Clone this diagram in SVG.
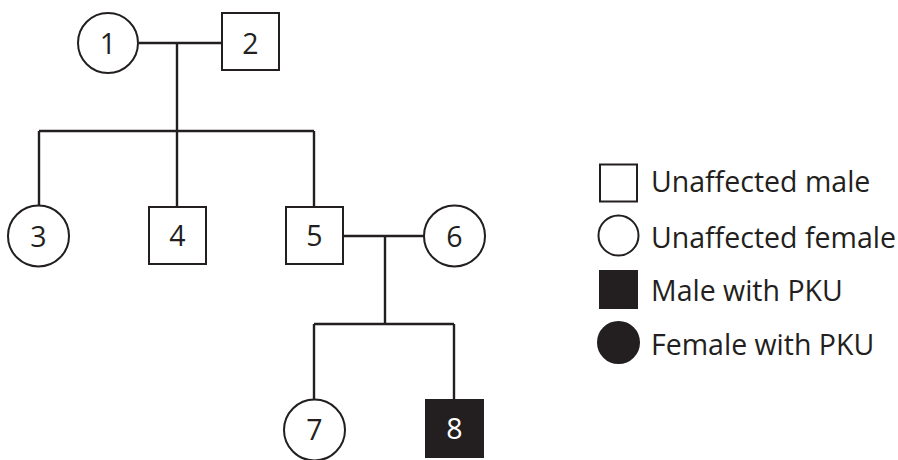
<svg xmlns="http://www.w3.org/2000/svg" width="898" height="460" viewBox="0 0 898 460">
<style>
.sym{fill:#fff;stroke:#231f20;stroke-width:2}
.aff{fill:#231f20;stroke:#231f20;stroke-width:2}
.lbl{font-family:"Open Sans","Noto Sans",sans-serif;font-size:28.5px;fill:#231f20;text-anchor:middle}
.lblw{font-family:"Open Sans","Noto Sans",sans-serif;font-size:28.5px;fill:#fff;text-anchor:middle}
.leg{font-family:"Open Sans","Noto Sans",sans-serif;font-size:28.5px;fill:#231f20}
.ln{stroke:#231f20;stroke-width:2.4;fill:none}
</style>
<rect width="898" height="460" fill="#fff"/>
<g id="connectors">
<path class="ln" d="M139 43H222M177 43V131M39 131H314M39 131V206M177 131V207M314 131V207"/>
<path class="ln" d="M343 236H424M385 236V324M314 324H454M314 324V400M454 324V400"/>
</g>
<g id="n1"><circle class="sym" cx="108" cy="43" r="30"/><text class="lbl" x="108" y="53.5">1</text></g>
<g id="n2"><rect class="sym" x="222" y="13" width="57" height="57"/><text class="lbl" x="250.5" y="53.5">2</text></g>
<g id="n3"><circle class="sym" cx="38.5" cy="236" r="30.5"/><text class="lbl" x="38.5" y="246.5">3</text></g>
<g id="n4"><rect class="sym" x="149" y="207" width="57" height="57"/><text class="lbl" x="177.5" y="246">4</text></g>
<g id="n5"><rect class="sym" x="286" y="207" width="57" height="57"/><text class="lbl" x="314.5" y="246">5</text></g>
<g id="n6"><circle class="sym" cx="454.5" cy="236" r="30.5"/><text class="lbl" x="454.5" y="246.5">6</text></g>
<g id="n7"><circle class="sym" cx="314.5" cy="430" r="30.5"/><text class="lbl" x="314.5" y="440">7</text></g>
<g id="n8"><rect class="aff" x="426" y="400" width="57" height="57"/><text class="lblw" x="454.5" y="439">8</text></g>
<g id="legend">
<rect class="sym" x="600" y="164.5" width="37" height="37"/>
<text class="leg" x="651" y="192">Unaffected male</text>
<circle class="sym" cx="618.5" cy="235.5" r="20"/>
<text class="leg" x="651" y="248">Unaffected female</text>
<rect class="aff" x="600" y="271" width="37" height="37"/>
<text class="leg" x="651" y="301">Male with PKU</text>
<circle class="aff" cx="618.5" cy="342.5" r="20.5"/>
<text class="leg" x="651" y="355">Female with PKU</text>
</g>
</svg>
